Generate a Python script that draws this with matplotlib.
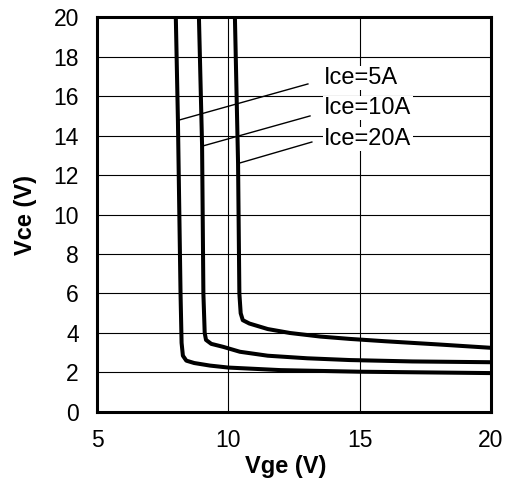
import matplotlib.pyplot as plt

plt.rcParams['font.family'] = ['Liberation Sans', 'DejaVu Sans']

# Vce vs Vge for three collector currents
vge_5a = [8.00, 8.08, 8.18, 8.22, 8.27, 8.40, 8.70, 9.30, 10.0, 12.0, 15.0, 20.0]
vce_5a = [20.0, 14.8, 6.00, 3.50, 2.85, 2.60, 2.48, 2.35, 2.25, 2.12, 2.04, 1.97]

vge_10a = [8.88, 9.00, 9.05, 9.10, 9.15, 9.35, 9.80, 10.44, 11.5, 13.0, 14.63, 17.0, 20.0]
vce_10a = [20.0, 13.5, 6.00, 4.00, 3.65, 3.45, 3.30, 3.05, 2.85, 2.72, 2.63, 2.56, 2.52]

vge_20a = [10.25, 10.37, 10.42, 10.47, 10.55, 10.80, 11.5, 12.35, 13.5, 14.63, 16.0, 18.0, 20.0]
vce_20a = [20.0, 12.6, 6.00, 5.00, 4.65, 4.48, 4.20, 4.00, 3.82, 3.70, 3.58, 3.42, 3.25]

curve_labels = ['Ice=5A', 'Ice=10A', 'Ice=20A']
# leader lines: (x0, x1), (y0, y1)
leader_x = [(8.12, 13.03), (9.03, 13.11), (10.44, 13.18)]
leader_y = [(14.78, 16.61), (13.47, 14.99), (12.61, 13.67)]
label_x = 13.64
label_y = [16.91, 15.39, 13.82]

fig = plt.figure(figsize=(5.09, 4.83), dpi=100)
ax = fig.add_axes([0.1906, 0.147, 0.774, 0.8178])

ax.set_xlim(5, 20)
ax.set_ylim(0, 20)
ax.set_xticks([5, 10, 15, 20])
ax.set_yticks(range(0, 21, 2))
ax.grid(True, color='black', linewidth=0.8)
ax.set_axisbelow(True)
ax.tick_params(length=0, labelsize=16.5)
ax.tick_params(axis='x', pad=12)
ax.tick_params(axis='y', pad=13)
for s in ax.spines.values():
    s.set_linewidth(2.2)

for xs, ys in [(vge_5a, vce_5a), (vge_10a, vce_10a), (vge_20a, vce_20a)]:
    ax.plot(xs, ys, color='black', linewidth=2.9, solid_joinstyle='round', zorder=3)

for lx, ly, ty, txt in zip(leader_x, leader_y, label_y, curve_labels):
    ax.plot(lx, ly, color='black', linewidth=1.0, zorder=4)
    ax.text(label_x, ty, txt, fontsize=17, va='center', ha='left', zorder=5,
            bbox=dict(facecolor='white', edgecolor='none', pad=1))

ax.set_xlabel('Vge (V)', fontsize=17, fontweight='bold')
ax.xaxis.set_label_coords(0.48, -0.108)
ax.set_ylabel('Vce (V)', fontsize=17, fontweight='bold')
ax.yaxis.set_label_coords(-0.152, 0.5)

fig.savefig('out.png', dpi=100)
